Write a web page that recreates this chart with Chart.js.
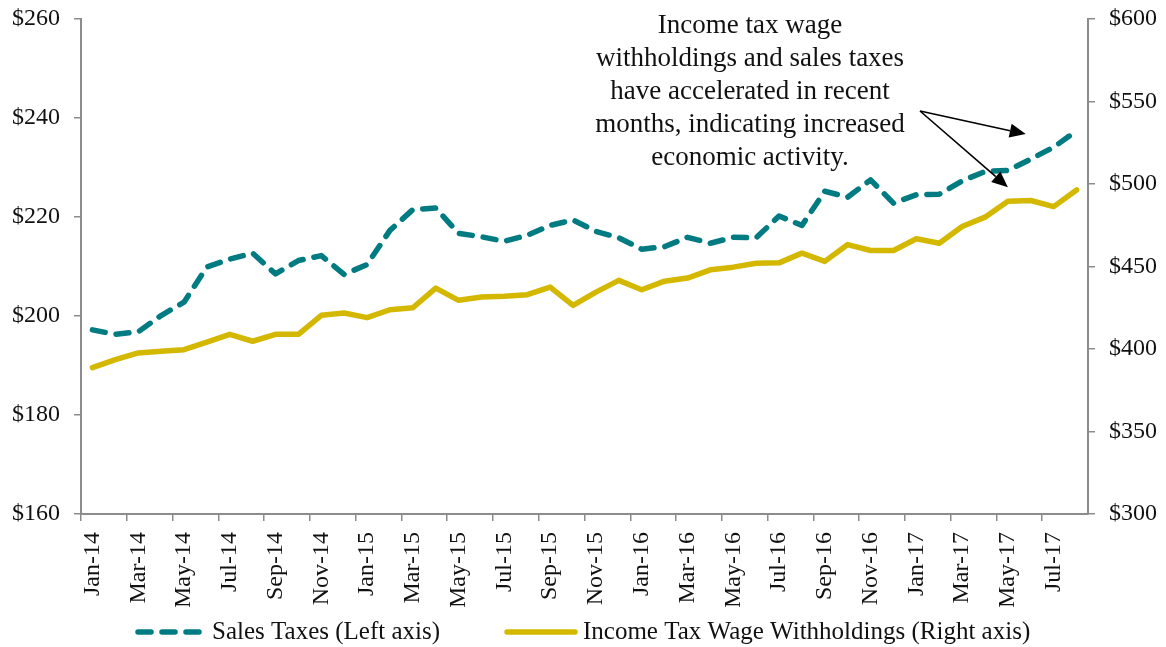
<!DOCTYPE html>
<html>
<head>
<meta charset="utf-8">
<title>Sales Taxes and Income Tax Wage Withholdings</title>
<script src="https://cdn.jsdelivr.net/npm/chart.js@4/dist/chart.umd.min.js"></script>
<style>
  html, body { margin: 0; padding: 0; background: #fff; }
  canvas { display: block; }
</style>
</head>
<body>
<canvas id="chart" width="1166" height="647"></canvas>
<script>
const months = [
  "Jan-14", "Feb-14", "Mar-14", "Apr-14", "May-14", "Jun-14", "Jul-14", "Aug-14", "Sep-14", "Oct-14", "Nov-14", "Dec-14",
  "Jan-15", "Feb-15", "Mar-15", "Apr-15", "May-15", "Jun-15", "Jul-15", "Aug-15", "Sep-15", "Oct-15", "Nov-15", "Dec-15",
  "Jan-16", "Feb-16", "Mar-16", "Apr-16", "May-16", "Jun-16", "Jul-16", "Aug-16", "Sep-16", "Oct-16", "Nov-16", "Dec-16",
  "Jan-17", "Feb-17", "Mar-17", "Apr-17", "May-17", "Jun-17", "Jul-17", "Aug-17",
];

// $ millions, left axis
const salesTaxes = [
  197.2, 196.3, 196.8, 200.1, 202.8, 209.9, 211.5, 212.7, 208.5, 211.2, 212.2, 208.4,
  210.4, 217.3, 221.5, 221.8, 216.7, 216.0, 215.1, 216.3, 218.3, 219.4, 217.1, 215.8,
  213.5, 214.0, 215.9, 214.7, 215.9, 215.8, 220.2, 218.3, 225.2, 224.0, 227.5, 222.8,
  224.5, 224.6, 227.3, 229.2, 229.4, 231.7, 234.1, 237.4,
];

// $ millions, right axis
const wageWithholdings = [
  388.7, 393.6, 397.6, 398.6, 399.6, 404.2, 408.9, 404.7, 408.9, 408.9, 420.4, 421.8,
  419.0, 423.8, 425.0, 436.9, 429.5, 431.5, 431.9, 432.9, 437.5, 426.4, 434.5, 441.6,
  435.9, 441.1, 443.0, 448.0, 449.6, 452.0, 452.2, 458.1, 453.1, 463.3, 459.7, 459.7,
  466.8, 464.1, 474.2, 479.9, 489.6, 490.0, 486.3, 496.4,
];

const leftTicks = [160, 180, 200, 220, 240, 260];
const rightTicks = [300, 350, 400, 450, 500, 550, 600];

const noteLines = [
  "Income tax wage",
  "withholdings and sales taxes",
  "have accelerated in recent",
  "months, indicating increased",
  "economic activity.",
];

const TEAL = "#007b82";
const GOLD = "#d4b800";
const AXIS = "#8c8c8c";
const FONT = "'Liberation Serif', 'Times New Roman', serif";

function dollars(v) {
  return "$" + v;
}

// y axes: fixed width, and let the top/bottom labels hang outside the plot
function fitY(width) {
  return (s) => {
    s.width = width;
    s.paddingTop = 0;
    s.paddingBottom = 0;
  };
}

// callout text with two arrows pointing at the latest months
const notePlugin = {
  id: "note",
  afterDatasetsDraw(chart) {
    const { ctx, scales } = chart;
    ctx.save();
    ctx.fillStyle = "#111";
    ctx.font = "27px " + FONT;
    ctx.textAlign = "center";
    ctx.textBaseline = "alphabetic";
    noteLines.forEach((line, i) => ctx.fillText(line, 750, 33 + i * 33));

    const from = { x: 920, y: 111 };
    const tips = [
      { x: scales.x.getPixelForValue(41) - 5, y: scales.y.getPixelForValue(salesTaxes[41]) - 25 },
      { x: scales.x.getPixelForValue(40), y: scales.y2.getPixelForValue(wageWithholdings[40]) - 14 },
    ];
    tips.forEach((tip) => drawArrow(ctx, from, tip));
    ctx.restore();
  },
};

function drawArrow(ctx, a, b) {
  const ang = Math.atan2(b.y - a.y, b.x - a.x);
  const head = 16;
  const half = 7;
  const bx = b.x - head * Math.cos(ang);
  const by = b.y - head * Math.sin(ang);
  ctx.strokeStyle = "#000";
  ctx.lineWidth = 1.6;
  ctx.beginPath();
  ctx.moveTo(a.x, a.y);
  ctx.lineTo(bx, by);
  ctx.stroke();
  ctx.fillStyle = "#000";
  ctx.beginPath();
  ctx.moveTo(b.x, b.y);
  ctx.lineTo(bx + half * Math.sin(ang), by - half * Math.cos(ang));
  ctx.lineTo(bx - half * Math.sin(ang), by + half * Math.cos(ang));
  ctx.closePath();
  ctx.fill();
}

// legend row under the month labels
const legendPlugin = {
  id: "bottomLegend",
  afterDraw(chart) {
    const { ctx } = chart;
    const y = 632;
    const items = [
      { ds: chart.data.datasets[0], x0: 138, x1: 201, tx: 212 },
      { ds: chart.data.datasets[1], x0: 507, x1: 575, tx: 583 },
    ];
    ctx.save();
    items.forEach(({ ds, x0, x1, tx }) => {
      ctx.strokeStyle = ds.borderColor;
      ctx.lineWidth = ds.borderWidth;
      ctx.lineCap = ds.borderCapStyle;
      ctx.setLineDash(ds.borderDash || []);
      ctx.beginPath();
      ctx.moveTo(x0, y);
      ctx.lineTo(x1, y);
      ctx.stroke();
      ctx.setLineDash([]);
      ctx.fillStyle = "#111";
      ctx.font = "25px " + FONT;
      ctx.textBaseline = "middle";
      ctx.textAlign = "left";
      ctx.fillText(ds.label, tx, y);
    });
    ctx.restore();
  },
};

new Chart(document.getElementById("chart"), {
  type: "line",
  data: {
    labels: months,
    datasets: [
      {
        label: "Sales Taxes (Left axis)",
        data: salesTaxes,
        yAxisID: "y",
        borderColor: TEAL,
        borderWidth: 5.5,
        borderDash: [13, 11],
        borderCapStyle: "round",
        borderJoinStyle: "round",
        pointRadius: 0,
        tension: 0,
      },
      {
        label: "Income Tax Wage Withholdings (Right axis)",
        data: wageWithholdings,
        yAxisID: "y2",
        borderColor: GOLD,
        borderWidth: 5.5,
        borderCapStyle: "round",
        borderJoinStyle: "round",
        pointRadius: 0,
        tension: 0,
      },
    ],
  },
  options: {
    responsive: false,
    animation: false,
    layout: { padding: { top: 19, left: 0, right: 0, bottom: 40 } },
    plugins: {
      legend: { display: false },
      tooltip: { enabled: false },
    },
    scales: {
      x: {
        offset: true,
        grid: {
          offset: true,
          drawOnChartArea: false,
          tickLength: 7,
          lineWidth: 1.5,
          color: (c) => (c.index % 2 === 0 ? AXIS : "rgba(0,0,0,0)"),
        },
        border: { color: AXIS, width: 2 },
        ticks: {
          autoSkip: false,
          minRotation: 90,
          maxRotation: 90,
          padding: 11,
          color: "#111",
          font: { family: FONT, size: 24 },
          callback: (v, i) => (i % 2 === 0 ? months[i] : ""),
        },
        afterFit: (s) => { s.height = 93; },
      },
      y: {
        position: "left",
        min: leftTicks[0],
        max: leftTicks[leftTicks.length - 1],
        afterBuildTicks: (s) => { s.ticks = leftTicks.map((v) => ({ value: v })); },
        grid: { drawOnChartArea: false, tickLength: 7, lineWidth: 1.5, color: AXIS },
        border: { color: AXIS, width: 2 },
        ticks: {
          padding: 14,
          color: "#111",
          font: { family: FONT, size: 24 },
          callback: dollars,
        },
        afterFit: fitY(81),
      },
      y2: {
        position: "right",
        min: rightTicks[0],
        max: rightTicks[rightTicks.length - 1],
        afterBuildTicks: (s) => { s.ticks = rightTicks.map((v) => ({ value: v })); },
        grid: { drawOnChartArea: false, tickLength: 7, lineWidth: 1.5, color: AXIS },
        border: { color: AXIS, width: 2 },
        ticks: {
          padding: 14,
          color: "#111",
          font: { family: FONT, size: 24 },
          callback: dollars,
        },
        afterFit: fitY(78),
      },
    },
  },
  plugins: [notePlugin, legendPlugin],
});
</script>
</body>
</html>
